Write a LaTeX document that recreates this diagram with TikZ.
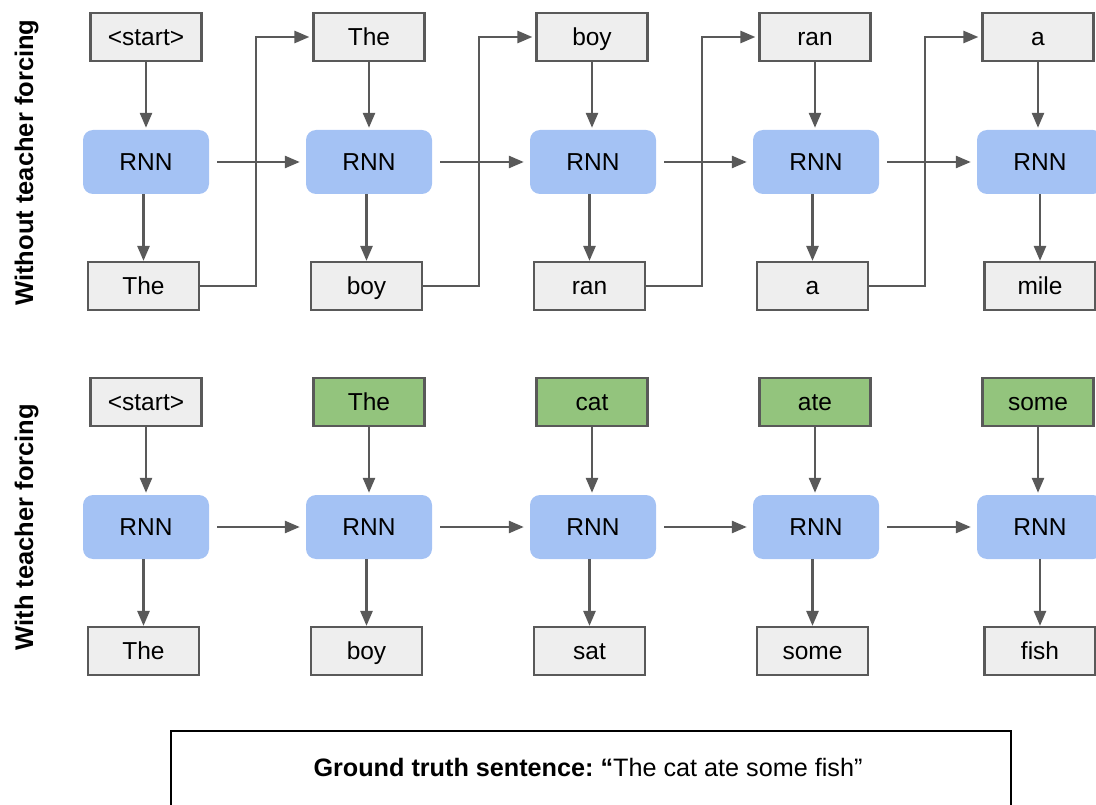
\documentclass[tikz,border=0pt]{standalone}
\usepackage{fontspec}
\setmainfont{Liberation Sans}
\usetikzlibrary{arrows.meta}
\definecolor{linegray}{HTML}{595959}
\definecolor{boxgray}{HTML}{EEEEEE}
\definecolor{rnnblue}{HTML}{A4C2F4}
\definecolor{truegreen}{HTML}{93C47D}

\tikzset{
  tok/.style={draw=linegray, line width=2.2pt, fill=boxgray, minimum width=111pt,
    minimum height=48pt, inner sep=0pt, text height=17pt, text depth=0pt,
    font=\fontsize{24.5}{28}\selectfont},
  given/.style={tok, fill=truegreen},
  rnn/.style={fill=rnnblue, rounded corners=10pt, minimum width=126pt,
    minimum height=64pt, inner sep=0pt, text height=17pt, text depth=0pt,
    font=\fontsize{24.5}{28}\selectfont},
  flow/.style={draw=linegray, line width=2.6pt, -{Triangle[length=15pt,width=12pt]}},
  rowlabel/.style={rotate=90, anchor=base, font=\fontsize{25.5}{28}\selectfont\bfseries},
}

\begin{document}
\begin{tikzpicture}[x=1pt, y=-1pt]
\useasboundingbox (0,0) rectangle (1096,805);
\clip (0,0) rectangle (1096,805);

% row labels
\node[rowlabel] (lab1) at (33,162.5) {Without teacher forcing};
\node[rowlabel] (lab2) at (33,527) {With teacher forcing};

% ---- without teacher forcing ----
\node[tok] (t1) at (146,37) {\textless start\textgreater};
\node[tok] (t2) at (369,37) {The};
\node[tok] (t3) at (592,37) {boy};
\node[tok] (t4) at (815,37) {ran};
\node[tok] (t5) at (1038,37) {a};

\node[rnn] (r1) at (146,162) {RNN};
\node[rnn] (r2) at (369,162) {RNN};
\node[rnn] (r3) at (593,162) {RNN};
\node[rnn] (r4) at (816,162) {RNN};
\node[rnn] (r5) at (1040,162) {RNN};

\node[tok] (b1) at (143.5,286) {The};
\node[tok] (b2) at (366.5,286) {boy};
\node[tok] (b3) at (589.5,286) {ran};
\node[tok] (b4) at (812.5,286) {a};
\node[tok] (b5) at (1040,286) {mile};

\foreach \i in {1,...,5} {
  \draw[flow] (t\i.south) -- ([yshift=2pt]t\i.south |- r\i.north);
  \draw[flow] (b\i.north |- r\i.south) -- (b\i.north);
}
\foreach \i/\j in {1/2,2/3,3/4,4/5} {
  \draw[flow] ([xshift=8pt]r\i.east) -- ([xshift=-6pt]r\j.west);
  \draw[flow] (b\i.east) -- ++(56,0) |- ([xshift=-3pt]t\j.west);
}

% ---- with teacher forcing ----
\node[tok]   (u1) at (146,402) {\textless start\textgreater};
\node[given] (u2) at (369,402) {The};
\node[given] (u3) at (592,402) {cat};
\node[given] (u4) at (815,402) {ate};
\node[given] (u5) at (1038,402) {some};

\node[rnn] (s1) at (146,527) {RNN};
\node[rnn] (s2) at (369,527) {RNN};
\node[rnn] (s3) at (593,527) {RNN};
\node[rnn] (s4) at (816,527) {RNN};
\node[rnn] (s5) at (1040,527) {RNN};

\node[tok] (v1) at (143.5,651) {The};
\node[tok] (v2) at (366.5,651) {boy};
\node[tok] (v3) at (589.5,651) {sat};
\node[tok] (v4) at (812.5,651) {some};
\node[tok] (v5) at (1040,651) {fish};

\foreach \i in {1,...,5} {
  \draw[flow] (u\i.south) -- ([yshift=2pt]u\i.south |- s\i.north);
  \draw[flow] (v\i.north |- s\i.south) -- (v\i.north);
}
\foreach \i/\j in {1/2,2/3,3/4,4/5} {
  \draw[flow] ([xshift=8pt]s\i.east) -- ([xshift=-6pt]s\j.west);
}

% ground truth panel
\node[draw=black, line width=2pt, minimum width=840pt, minimum height=100pt,
  anchor=north west, inner sep=0pt] (truth) at (170,730) {};
\node[font=\fontsize{25.2}{28}\selectfont, text height=17pt, text depth=0pt] (truthtext) at (588,768)
  {\textbf{Ground truth sentence:~“}The cat ate some fish”};
\end{tikzpicture}
\end{document}
